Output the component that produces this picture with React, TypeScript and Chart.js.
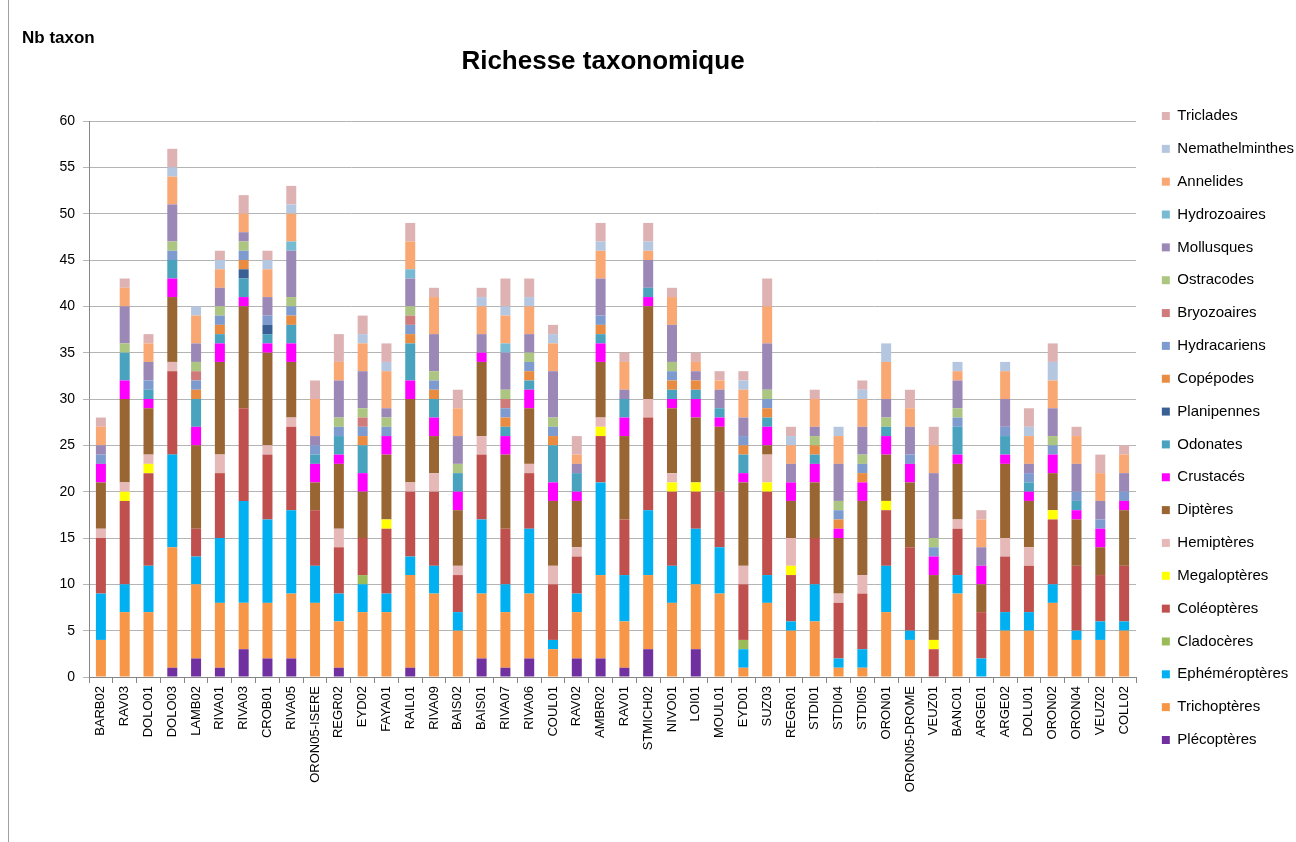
import { useEffect, useRef } from 'react';
import { Chart, registerables } from 'chart.js';
Chart.register(...registerables);

const FONT = '"Liberation Sans", Arial, sans-serif';

const categories = [
  'BARB02', 'RAV03', 'DOLO01', 'DOLO03', 'LAMB02', 'RIVA01', 'RIVA03', 'CROB01', 'RIVA05', 'ORON05-ISERE',
  'REGR02', 'EYD02', 'FAYA01', 'RAIL01', 'RIVA09', 'BAIS02', 'BAIS01', 'RIVA07', 'RIVA06', 'COUL01',
  'RAV02', 'AMBR02', 'RAV01', 'STMICH02', 'NIVO01', 'LOI01', 'MOUL01', 'EYD01', 'SUZ03', 'REGR01',
  'STDI01', 'STDI04', 'STDI05', 'ORON01', 'ORON05-DROME', 'VEUZ01', 'BANC01', 'ARGE01', 'ARGE02', 'DOLU01',
  'ORON02', 'ORON04', 'VEUZ02', 'COLL02',
];

const plecopteres = [0,0,0,1,2,1,3,2,2,0, 1,0,0,1,0,0,2,1,2,0, 2,2,1,3,0,3,0,0,0,0, 0,0,0,0,0,0,0,0,0,0, 0,0,0,0];
const trichopteres = [4,7,7,13,8,7,5,6,7,8, 5,7,7,10,9,5,7,6,7,3, 5,9,5,8,8,7,9,1,8,5, 6,1,1,7,4,0,9,0,5,5, 8,4,4,5];
const ephemeropteres = [5,3,5,10,3,7,11,9,9,4, 3,3,2,2,3,2,8,3,7,1, 2,10,5,7,4,6,5,2,3,1, 4,1,2,5,1,0,2,2,2,2, 2,1,2,1];
const cladoceres = [0,0,0,0,0,0,0,0,0,0, 0,1,0,0,0,0,0,0,0,0, 0,0,0,0,0,0,0,1,0,0, 0,0,0,0,0,0,0,0,0,0, 0,0,0,0];
const coleopteres = [6,9,10,9,3,7,10,7,9,6, 5,4,7,7,8,4,7,6,6,6, 4,5,6,10,8,4,6,6,9,5, 5,6,6,6,9,3,5,5,6,5, 7,7,5,6];
const megalopteres = [0,1,1,0,0,0,0,0,0,0, 0,0,1,0,0,0,0,0,0,0, 0,1,0,0,1,1,0,0,1,1, 0,0,0,1,0,1,0,0,0,0, 1,0,0,0];
const hemipteres = [1,1,1,1,0,2,0,1,1,0, 2,0,0,1,2,1,2,0,1,2, 1,1,0,2,1,0,0,2,3,3, 0,1,2,0,0,0,1,0,2,2, 0,0,0,0];
const dipteres = [5,9,5,7,9,10,11,10,6,3, 7,5,7,9,4,6,8,8,6,7, 5,6,9,10,7,7,7,9,1,4, 6,6,8,5,7,7,6,3,8,5, 4,5,3,6];
const crustaces = [2,2,1,2,2,2,1,1,2,2, 1,2,2,2,2,2,1,2,2,2, 1,2,2,1,1,2,1,1,2,2, 2,1,2,2,2,2,1,2,1,1, 2,1,2,1];
const odonates = [0,3,1,2,3,1,2,1,2,1, 2,3,0,4,2,2,0,1,1,4, 2,1,2,1,1,1,1,2,1,0, 1,0,0,1,0,0,3,0,2,1, 0,1,0,0];
const planipennes = [0,0,0,0,0,0,1,1,0,0, 0,0,0,0,0,0,0,0,0,0, 0,0,0,0,0,0,0,0,0,0, 0,0,0,0,0,0,0,0,0,0, 0,0,0,0];
const copepodes = [0,0,0,0,1,1,1,0,1,0, 0,1,0,1,1,0,0,1,1,1, 0,1,0,0,1,1,0,1,1,0, 1,1,1,0,0,0,0,0,0,0, 0,0,0,0];
const hydracariens = [1,0,1,1,1,1,1,1,1,1, 1,1,1,1,1,0,0,1,1,1, 0,1,0,0,1,0,0,1,1,0, 0,1,1,0,1,1,1,0,1,1, 1,1,1,1];
const bryozoaires = [0,0,0,0,1,0,0,0,0,0, 0,1,0,1,0,0,0,1,0,0, 0,0,0,0,0,0,0,0,0,0, 0,0,0,0,0,0,0,0,0,0, 0,0,0,0];
const ostracodes = [0,1,0,1,1,1,1,0,1,0, 1,1,1,1,1,1,0,1,1,1, 0,0,0,0,1,0,0,0,1,0, 1,1,1,1,0,1,1,0,0,0, 1,0,0,0];
const mollusques = [1,4,2,4,2,2,1,2,5,1, 4,4,1,3,4,3,2,4,2,5, 1,4,1,3,4,1,2,2,5,2, 1,4,3,2,3,7,3,2,3,1, 3,3,2,2];
const hydrozoaires = [0,0,0,0,0,0,0,0,1,0, 0,0,0,1,0,0,0,1,0,0, 0,0,0,0,0,0,0,0,0,0, 0,0,0,0,0,0,0,0,0,0, 0,0,0,0];
const annelides = [2,2,2,3,3,2,2,3,3,4, 2,3,4,3,4,3,3,3,3,3, 1,3,3,1,3,1,1,3,4,2, 3,3,3,4,2,3,1,3,3,3, 3,3,3,2];
const nemathelminthes = [0,0,0,1,1,1,0,1,1,0, 0,1,1,0,0,0,1,1,1,1, 0,1,0,1,0,0,0,1,0,1, 0,1,1,2,0,0,1,0,1,1, 2,0,0,0];
const triclades = [1,1,1,2,0,1,2,1,2,2, 3,2,2,2,1,2,1,3,2,1, 2,2,1,2,1,1,1,1,3,1, 1,0,1,0,2,2,0,1,0,2, 2,1,2,1];

const seriesNames = [
  'Plécoptères', 'Trichoptères', 'Ephéméroptères', 'Cladocères', 'Coléoptères', 'Megaloptères',
  'Hemiptères', 'Diptères', 'Crustacés', 'Odonates', 'Planipennes', 'Copépodes', 'Hydracariens',
  'Bryozoaires', 'Ostracodes', 'Mollusques', 'Hydrozoaires', 'Annelides', 'Nemathelminthes', 'Triclades',
];
const seriesValues = [
  plecopteres, trichopteres, ephemeropteres, cladoceres, coleopteres, megalopteres,
  hemipteres, dipteres, crustaces, odonates, planipennes, copepodes, hydracariens,
  bryozoaires, ostracodes, mollusques, hydrozoaires, annelides, nemathelminthes, triclades,
];
const seriesColors = [
  '#7030A0', '#F79646', '#00B0F0', '#9BBB59', '#C0504D', '#FFFF00',
  '#E6B9B8', '#996633', '#FF00FF', '#4AA3BE', '#3A5F94', '#E98B40', '#7D9BCE',
  '#CF7B7B', '#ACC682', '#9C88B7', '#78BAD2', '#F9A873', '#B4C6E0', '#DEB2B2',
];

const yTicks = { min: 0, max: 60, step: 5 };

const textPlugin = {
  id: 'staticTexts',
  beforeDraw(chart: any) {
    const c = chart.ctx;
    c.save();
    c.fillStyle = '#ffffff';
    c.fillRect(0, 0, chart.width, chart.height);
    c.restore();
  },
  afterDraw(chart: any) {
    const c = chart.ctx;
    c.save();
    c.fillStyle = '#000';
    c.textBaseline = 'middle';
    c.textAlign = 'left';
    c.font = `bold 17px ${FONT}`;
    c.fillText('Nb taxon', 22, 38);
    c.font = `bold 26px ${FONT}`;
    c.textAlign = 'center';
    c.fillText('Richesse taxonomique', 603, 62);
    c.strokeStyle = '#a0a0a0';
    c.lineWidth = 1;
    c.beginPath();
    c.moveTo(8.5, 0);
    c.lineTo(8.5, chart.height);
    c.stroke();
    c.restore();
  },
};

export default function App() {
  const ref = useRef<HTMLCanvasElement>(null);
  useEffect(() => {
    const canvas = ref.current;
    if (!canvas) return;
    const chart = new Chart(canvas, {
      type: 'bar',
      data: {
        labels: categories,
        datasets: seriesNames.map((name, i) => ({
          label: name,
          data: seriesValues[i],
          backgroundColor: seriesColors[i],
          borderWidth: 0,
          barPercentage: 0.42,
          categoryPercentage: 1,
          xAxisID: 'x',
          yAxisID: 'y',
        })),
      },
      options: {
        responsive: false,
        animation: false,
        devicePixelRatio: 1,
        events: [],
        layout: { padding: { top: 14, left: 0, right: 0, bottom: 0 } },
        scales: {
          x: {
            stacked: true,
            grid: { display: true, drawOnChartArea: false, color: '#868686', tickLength: 6, offset: true },
            border: { display: true, color: '#868686' },
            ticks: { minRotation: 90, maxRotation: 90, autoSkip: false, color: '#000', padding: 3, font: { family: FONT, size: 13 } },
            afterFit: (s: any) => { s.height = 165; },
          },
          y: {
            stacked: true,
            min: yTicks.min,
            max: yTicks.max,
            ticks: { stepSize: yTicks.step, color: '#000', padding: 8, font: { family: FONT, size: 14 } },
            grid: { color: '#b4b4b4', tickLength: 6 },
            border: { display: true, color: '#868686' },
            afterFit: (s: any) => { s.width = 89; },
          },
          topGap: {
            type: 'category',
            position: 'top',
            display: true,
            grid: { display: false },
            border: { display: false },
            ticks: { display: false },
            afterFit: (s: any) => { s.height = 107; },
          },
          rightGap: {
            type: 'linear',
            position: 'right',
            display: true,
            grid: { display: false },
            border: { display: false },
            ticks: { display: false },
            afterFit: (s: any) => { s.width = 8; },
          },
        } as any,
        plugins: {
          legend: {
            display: true,
            position: 'right',
            reverse: true,
            maxWidth: 152,
            labels: {
              boxWidth: 8,
              boxHeight: 8,
              padding: 17.84,
              color: '#000',
              font: { family: FONT, size: 15 },
            },
          },
          title: { display: false },
          tooltip: { enabled: false },
        },
      },
      plugins: [textPlugin],
    });
    return () => chart.destroy();
  }, []);

  return (
    <div style={{ position: 'fixed', left: 0, top: 0, width: 1296, height: 842, overflow: 'hidden', background: '#fff' }}>
      <canvas ref={ref} width={1296} height={842} style={{ display: 'block', width: 1296, height: 842 }} />
    </div>
  );
}
